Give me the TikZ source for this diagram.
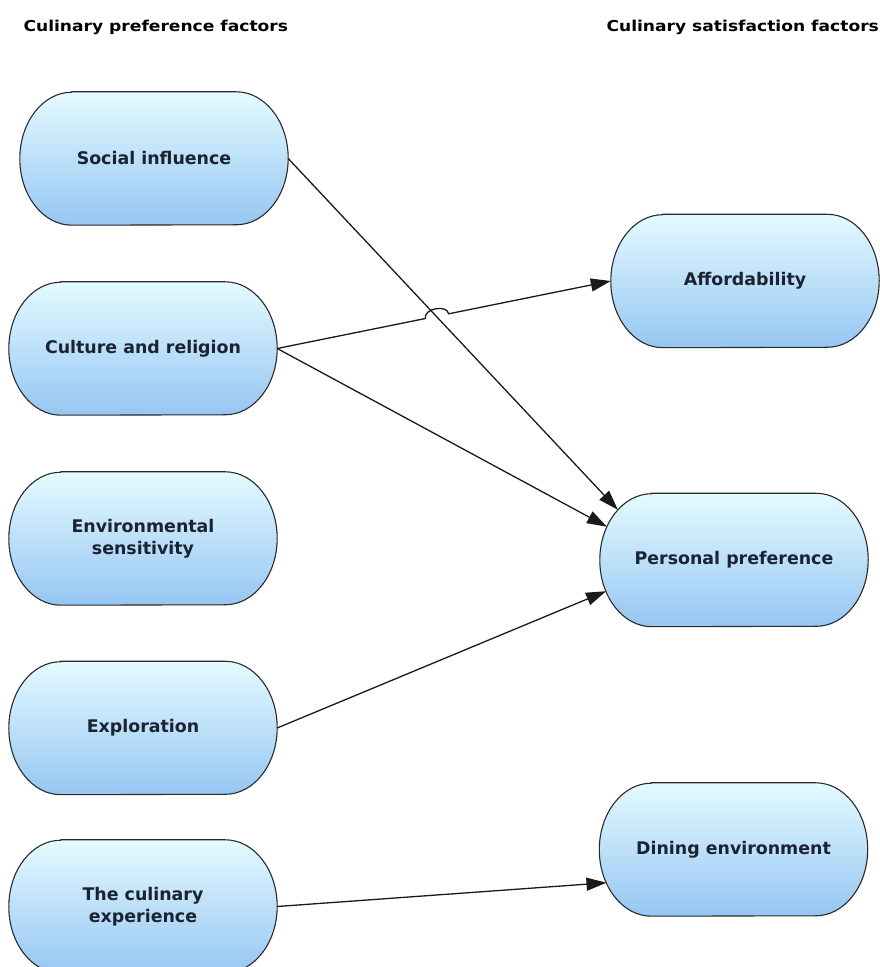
\documentclass[tikz,border=0pt]{standalone}
\usepackage{fontspec}
\setmainfont{DejaVu Sans}
\newfontfamily\headfont[FakeStretch=1.14]{DejaVu Sans}
\usetikzlibrary{arrows.meta,calc}
\pgfdeclarelayer{bg}
\pgfsetlayers{bg,main}

\definecolor{boxtop}{HTML}{E4FAFF}
\definecolor{boxbot}{HTML}{96C6F2}
\definecolor{edgegray}{HTML}{2A2A2A}
\definecolor{linegray}{HTML}{1A1A1A}
\definecolor{boxtext}{HTML}{1B2232}

\tikzset{
  box/.style={rectangle, minimum width=268pt, minimum height=133pt, inner sep=0pt,
    align=center, text=boxtext, font=\fontsize{17.4}{22}\selectfont\bfseries},
  outline/.style={draw=edgegray, line width=1.1pt, top color=boxtop, bottom color=boxbot},
  conn/.style={draw=linegray, line width=1.3pt, -{Triangle[length=20pt,width=13pt]}},
  head/.style={anchor=base west, text=black,
    font=\headfont\fontsize{15}{18}\selectfont\bfseries}
}

% stadium outline with elliptic ends behind a box node
\newcommand\stadiumbox[1]{%
  \path[outline] ($(#1.north west)+(52pt,0pt)$) -- ($(#1.north east)+(-52pt,0pt)$)
    arc[start angle=90, end angle=-90, x radius=52pt, y radius=66.5pt]
    -- ($(#1.south west)+(52pt,0pt)$)
    arc[start angle=270, end angle=90, x radius=52pt, y radius=66.5pt] -- cycle;}

\begin{document}
\begin{tikzpicture}[x=1pt,y=1pt]
  \useasboundingbox (0,0) rectangle (880,967);

  % column headings
  \node[head] (hleft)  at (20,935.3)  {Culinary preference factors};
  \node[head] (hright) at (603,935.3) {Culinary satisfaction factors};

  % preference factors
  \node[box] (si) at (154,808.5) {Social influence};
  \node[box] (cr) at (143,618.5) {Culture and religion};
  \node[box] (es) at (143,428.5) {Environmental\\sensitivity};
  \node[box] (ex) at (143,239)   {Exploration};
  \node[box] (ce) at (143,60.5)  {The culinary\\experience};

  % satisfaction factors
  \node[box] (af) at (745,686)   {Affordability};
  \node[box] (pp) at (734,407)   {Personal preference};
  \node[box] (de) at (733.5,117.5) {Dining environment};

  \begin{pgfonlayer}{bg}
    \fill[white] (0,0) rectangle (880,967);
    \foreach \n in {si,cr,es,ex,ce,af,pp,de} {\stadiumbox{\n}}
  \end{pgfonlayer}

  % line hop where culture -> affordability crosses social -> preference
  \coordinate (hopa) at ($(cr.east)!0.444!(af.west)$);
  \coordinate (hopb) at ($(cr.east)!0.514!(af.west)$);

  \draw[conn] (si.east) -- ($(pp.center)+(-82pt,0pt)+(131:52pt and 66.5pt)$);
  \draw[conn] (cr.east) -- (hopa)
    .. controls ($(hopa)!10pt!90:(hopb)$) and ($(hopb)!10pt!-90:(hopa)$) .. (hopb)
    -- (af.west);
  \draw[conn] (cr.east) -- ($(pp.center)+(-82pt,0pt)+(150:52pt and 66.5pt)$);
  \draw[conn] (ex.east) -- ($(pp.center)+(-82pt,0pt)+(208:52pt and 66.5pt)$);
  \draw[conn] (ce.east) -- ($(de.center)+(-82pt,0pt)+(210:52pt and 66.5pt)$);
\end{tikzpicture}
\end{document}
